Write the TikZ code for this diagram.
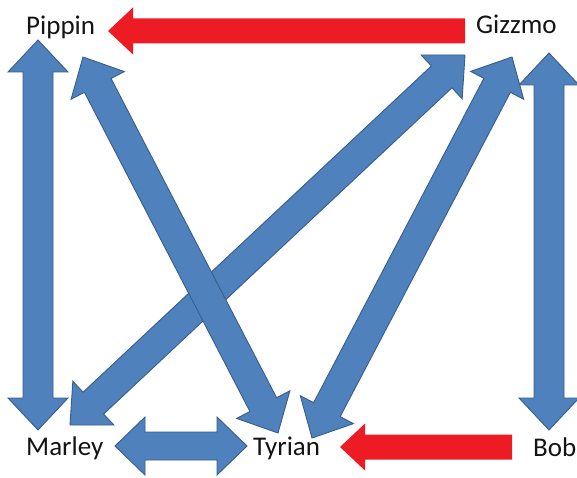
\documentclass[tikz,border=0pt]{standalone}
\usepackage{fontspec}
\setmainfont{Carlito}
\usetikzlibrary{calc}
\definecolor{arrowblue}{HTML}{4F81BD}
\definecolor{arrowedge}{HTML}{385D8A}
\definecolor{arrowred}{HTML}{ED1C24}
\pgfdeclarelayer{background}
\pgfsetlayers{background,main}
\tikzset{
  bluearrow/.style={fill=arrowblue, draw=arrowedge, line width=0.9pt, line join=miter},
  redarrow/.style={fill=arrowred},
  petname/.style={inner sep=0pt, anchor=base west, font=\fontsize{27}{30}\selectfont, text=black!92}
}
% double-headed block arrow between two named points
\newcommand\twoheadblock[2]{%
  \coordinate (hA) at ($(#1)!32pt!(#2)$);
  \coordinate (hB) at ($(#2)!32pt!(#1)$);
  \draw[bluearrow] (#1) -- ($(hA)!30pt!90:(#2)$) -- ($(hA)!15pt!90:(#2)$)
    -- ($(hB)!15pt!-90:(#1)$) -- ($(hB)!30pt!-90:(#1)$) -- (#2)
    -- ($(hB)!30pt!90:(#1)$) -- ($(hB)!15pt!90:(#1)$)
    -- ($(hA)!15pt!-90:(#2)$) -- ($(hA)!30pt!-90:(#2)$) -- cycle;
}
% single-headed block arrow from tail to tip
\newcommand\oneheadblock[2]{%
  \coordinate (hB) at ($(#2)!25pt!(#1)$);
  \fill[redarrow] ($(#1)!12.5pt!90:(#2)$) -- ($(hB)!12.5pt!-90:(#1)$)
    -- ($(hB)!23.5pt!-90:(#1)$) -- (#2) -- ($(hB)!23.5pt!90:(#1)$)
    -- ($(hB)!12.5pt!90:(#1)$) -- ($(#1)!12.5pt!-90:(#2)$) -- cycle;
}
\begin{document}
\begin{tikzpicture}[x=1pt, y=-1pt]
\useasboundingbox (0,0) rectangle (577,478);
% names
\node[petname] (pippin) at (26,35) {Pippin};
\node[petname] (gizzmo) at (476,34) {Gizzmo};
\node[petname] (marley) at (26,455) {Marley};
\node[petname] (tyrian) at (253,455) {Tyrian};
\node[petname] (bob) at (533,456) {Bob};
% arrow end points
\coordinate (pippinL) at (38,40);
\coordinate (marleyL) at (38,430);
\coordinate (pippinR) at (83,57);
\coordinate (tyrianL) at (278,433);
\coordinate (gizzmoL) at (465,55);
\coordinate (marleyR) at (70,425);
\coordinate (gizzmoM) at (512,57);
\coordinate (tyrianR) at (312,438);
\coordinate (gizzmoR) at (549,53);
\coordinate (bobT) at (549,430);
\coordinate (marleyE) at (115,446);
\coordinate (tyrianW) at (247,446);
\coordinate (gizzmoW) at (465,31);
\coordinate (pippinE) at (108,31);
\coordinate (bobW) at (512,447);
\coordinate (tyrianE) at (340,447);
\begin{pgfonlayer}{background}
\fill[white] (0,0) rectangle (577,478);
\twoheadblock{pippinL}{marleyL}
\twoheadblock{gizzmoR}{bobT}
\twoheadblock{gizzmoM}{tyrianR}
\twoheadblock{gizzmoL}{marleyR}
\twoheadblock{pippinR}{tyrianL}
\coordinate (hA) at ($(marleyE)!30pt!(tyrianW)$);
\coordinate (hB) at ($(tyrianW)!30pt!(marleyE)$);
\draw[bluearrow] (marleyE) -- ($(hA)!29pt!90:(tyrianW)$) -- ($(hA)!14pt!90:(tyrianW)$)
    -- ($(hB)!14pt!-90:(marleyE)$) -- ($(hB)!29pt!-90:(marleyE)$) -- (tyrianW)
    -- ($(hB)!29pt!90:(marleyE)$) -- ($(hB)!14pt!90:(marleyE)$)
    -- ($(hA)!14pt!-90:(tyrianW)$) -- ($(hA)!29pt!-90:(tyrianW)$) -- cycle;
\oneheadblock{gizzmoW}{pippinE}
\oneheadblock{bobW}{tyrianE}
\end{pgfonlayer}
\end{tikzpicture}
\end{document}
